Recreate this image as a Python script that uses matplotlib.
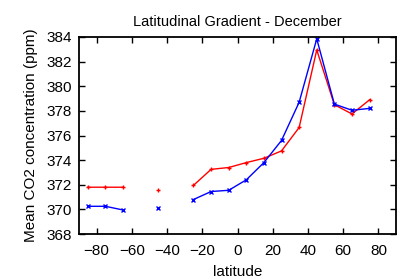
import numpy as np
import matplotlib
matplotlib.use("Agg")
import matplotlib.pyplot as plt

plt.rcParams['font.family'] = ['Liberation Sans', 'DejaVu Sans']

# latitude bands (nan = no data)
latitude = [-85, -75, -65, -55, -45, -35, -25, -15, -5, 5, 15, 25, 35, 45, 55, 65, 75]
red_co2 = [371.8, 371.8, 371.8, np.nan, 371.55, np.nan, 371.95, 373.25, 373.4, 373.8,
           374.15, 374.75, 376.65, 382.95, 378.5, 377.75, 378.9]
blue_co2 = [370.25, 370.25, 369.95, np.nan, 370.15, np.nan, 370.8, 371.45, 371.55, 372.4,
            373.8, 375.6, 378.7, 383.85, 378.55, 378.05, 378.2]

xticks = [-80, -60, -40, -20, 0, 20, 40, 60, 80]
yticks = [368, 370, 372, 374, 376, 378, 380, 382, 384]

fig = plt.figure(figsize=(4.07, 2.79), dpi=100)
ax = fig.add_axes([79/407, 1-234/279, 317/407, 197/279])

ax.plot(latitude, red_co2, color='red', lw=1, marker='+', ms=3.5, mew=1)
ax.plot(latitude, blue_co2, color='blue', lw=1, marker='x', ms=3, mew=1)

ax.set_xlim(-90, 90)
ax.set_ylim(368, 384)
ax.set_xticks(xticks)
ax.set_yticks(yticks)
ax.tick_params(direction='in', top=True, right=True, labelsize=11, length=4.3, width=1)
ax.tick_params(axis='x', pad=7.5)
ax.tick_params(axis='y', pad=5)
for s in ax.spines.values():
    s.set_linewidth(1.3)

ax.set_title('Latitudinal Gradient - December', fontsize=10.5, pad=8)
ax.set_xlabel('latitude', fontsize=11, labelpad=5)
ax.set_ylabel('Mean CO2 concentration (ppm)', fontsize=11, labelpad=6)

fig.savefig('out.png', dpi=100)
